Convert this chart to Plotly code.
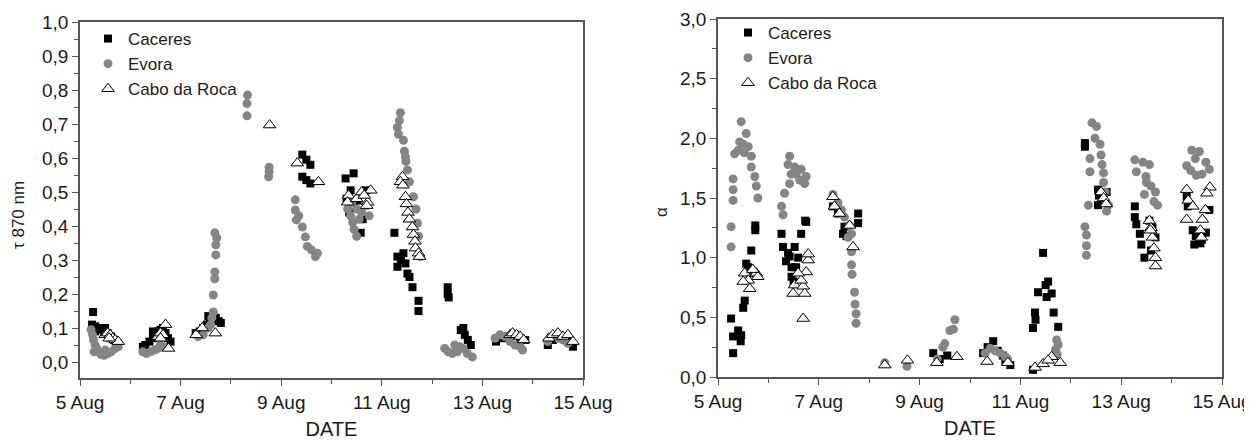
import pandas as pd
import plotly.graph_objects as go
from plotly.subplots import make_subplots

# ---------------- data (day of August, fractional) ----------------
tau_cac_day = [5.26, 5.24, 5.3, 5.35, 5.42, 5.48, 5.55, 5.62, 5.68, 5.75, 5.3, 5.5,
               6.25, 6.3, 6.38, 6.45, 6.5, 6.55, 6.6, 6.65, 6.7, 6.75, 6.45, 6.8,
               7.3, 7.38, 7.45, 7.52, 7.58, 7.64, 7.7, 7.76, 7.8, 7.55,
               9.42, 9.5, 9.58, 9.42, 9.58, 9.5,
               10.28, 10.44, 10.38, 10.68, 10.52, 10.58, 10.35, 10.62, 10.45, 10.3,
               11.25, 11.31, 11.43, 11.31, 11.38, 11.51, 11.55, 11.61, 11.73, 11.73, 11.47,
               12.31, 12.31, 12.33,
               12.57, 12.62, 12.71, 12.77, 12.65,
               13.27, 13.4, 13.55, 13.65, 13.75, 13.85,
               14.3, 14.4, 14.5, 14.6, 14.7, 14.8]
tau_cac_val = [0.147, 0.11, 0.105, 0.10, 0.095, 0.09, 0.085, 0.075, 0.065, 0.055, 0.09, 0.1,
               0.045, 0.05, 0.06, 0.07, 0.08, 0.09, 0.095, 0.1, 0.085, 0.07, 0.09, 0.06,
               0.085, 0.09, 0.1, 0.11, 0.12, 0.125, 0.13, 0.12, 0.115, 0.135,
               0.61, 0.595, 0.58, 0.545, 0.525, 0.535,
               0.54, 0.555, 0.505, 0.505, 0.475, 0.38, 0.44, 0.42, 0.47, 0.48,
               0.38, 0.31, 0.32, 0.28, 0.30, 0.26, 0.25, 0.22, 0.18, 0.15, 0.29,
               0.20, 0.22, 0.19,
               0.094, 0.1, 0.065, 0.05, 0.08,
               0.06, 0.07, 0.075, 0.08, 0.07, 0.065,
               0.05, 0.065, 0.075, 0.07, 0.06, 0.045]

tau_evo_day = [5.22, 5.25, 5.27, 5.3, 5.33, 5.37, 5.42, 5.48, 5.55, 5.62, 5.7, 5.76, 5.28, 5.5,
               6.25, 6.32, 6.4, 6.48, 6.55, 6.6, 6.65,
               7.35, 7.45, 7.55, 7.62, 7.65, 7.65, 7.68, 7.68, 7.7, 7.7, 7.72, 7.68, 7.6,
               8.33, 8.32, 8.32,
               8.76, 8.76, 8.75,
               9.28, 9.28, 9.3, 9.42, 9.48, 9.52, 9.68, 9.72, 9.35, 9.6,
               10.32, 10.38, 10.42, 10.45, 10.5, 10.55, 10.6, 10.7, 10.75, 10.4, 10.5,
               11.37, 11.31, 11.33, 11.43, 11.47, 11.48, 11.51, 11.55, 11.63, 11.68, 11.71, 11.73, 11.77, 11.35, 11.45,
               12.25, 12.32, 12.4, 12.5, 12.55, 12.62, 12.7, 12.8, 12.45,
               13.25, 13.35, 13.45, 13.55, 13.65, 13.75, 13.8,
               14.3, 14.4, 14.5, 14.6, 14.7]
tau_evo_val = [0.095, 0.08, 0.065, 0.05, 0.04, 0.03, 0.022, 0.02, 0.025, 0.03, 0.04, 0.045, 0.03, 0.035,
               0.03, 0.025, 0.03, 0.035, 0.04, 0.05, 0.045,
               0.075, 0.08, 0.1, 0.13, 0.147, 0.197, 0.245, 0.265, 0.315, 0.345, 0.365, 0.38, 0.11,
               0.785, 0.76, 0.724,
               0.573, 0.56, 0.545,
               0.477, 0.447, 0.418, 0.397, 0.368, 0.34, 0.31, 0.32, 0.43, 0.33,
               0.45, 0.43, 0.41, 0.39, 0.37, 0.42, 0.44, 0.46, 0.43, 0.47, 0.45,
               0.733, 0.69, 0.67, 0.652, 0.603, 0.59, 0.565, 0.53, 0.486, 0.45, 0.408, 0.37, 0.31, 0.71, 0.62,
               0.04, 0.03, 0.025, 0.03, 0.045, 0.04, 0.025, 0.015, 0.05,
               0.07, 0.08, 0.075, 0.06, 0.05, 0.045, 0.035,
               0.06, 0.075, 0.07, 0.065, 0.055]

tau_cab_day = [5.5, 5.55, 5.6, 5.65, 5.7, 5.76, 5.58,
               6.55, 6.6, 6.65, 6.7, 6.76, 6.6,
               7.31, 7.43, 7.69,
               8.77,
               9.32, 9.74,
               10.34, 10.32, 10.5, 10.6, 10.78, 10.72, 10.7, 10.65,
               11.41, 11.37, 11.42, 11.47, 11.49, 11.52, 11.55, 11.61, 11.63, 11.66, 11.67, 11.73, 11.75,
               13.55, 13.6, 13.68, 13.75, 13.82,
               14.32, 14.4, 14.5, 14.6, 14.7, 14.8]
tau_cab_val = [0.08, 0.085, 0.08, 0.07, 0.065, 0.06, 0.07,
               0.075, 0.085, 0.08, 0.11, 0.04, 0.07,
               0.08, 0.10, 0.085,
               0.697,
               0.585, 0.53,
               0.49, 0.47, 0.48, 0.5, 0.505, 0.47, 0.46, 0.49,
               0.545, 0.53, 0.52, 0.486, 0.465, 0.44, 0.42, 0.397, 0.375, 0.355, 0.335, 0.32, 0.31,
               0.08, 0.085, 0.08, 0.075, 0.065,
               0.07, 0.08, 0.085, 0.075, 0.08, 0.06]

alp_cac_day = [5.26, 5.4, 5.3, 5.46, 5.3, 5.5, 5.53, 5.56, 5.6, 5.63, 5.66, 5.74, 5.74, 5.45,
               6.26, 6.29, 6.42, 6.46, 6.52, 6.65, 6.73, 6.75, 6.59, 6.46, 6.39, 6.55, 6.35, 6.5,
               7.28, 7.38, 7.48, 7.51, 7.55, 7.78, 7.78,
               9.27, 9.4, 9.55,
               10.26, 10.35, 10.46, 10.55, 10.65, 10.8, 10.7,
               11.25, 11.45, 11.55, 11.5, 11.35, 11.62, 11.29, 11.66, 11.25, 11.75, 11.52, 11.3,
               12.28, 12.28, 12.54, 12.56, 12.54, 12.65, 12.71,
               13.27, 13.27, 13.3, 13.37, 13.4, 13.46, 13.59, 13.68, 13.56, 13.62,
               14.3, 14.32, 14.42, 14.48, 14.57, 14.45, 14.68, 14.75, 14.6]
alp_cac_val = [0.49, 0.39, 0.34, 0.35, 0.20, 0.58, 0.64, 0.95, 0.92, 0.87, 1.06, 1.23, 1.27, 0.30,
               1.20, 1.09, 1.01, 0.92, 1.09, 1.2, 1.31, 1.30, 1.0, 0.84, 1.04, 0.92, 0.97, 0.8,
               1.43, 1.37, 1.2, 1.26, 1.18, 1.37, 1.29,
               0.2, 0.15, 0.18,
               0.2, 0.25, 0.30, 0.22, 0.18, 0.10, 0.14,
               0.06, 1.04, 0.80, 0.77, 0.71, 0.70, 0.54, 0.54, 0.41, 0.42, 0.67, 0.48,
               1.96, 1.93, 1.57, 1.52, 1.44, 1.50, 1.55,
               1.43, 1.34, 1.28, 1.20, 1.11, 1.0, 1.06, 1.17, 1.31, 1.25,
               1.51, 1.43, 1.23, 1.18, 1.12, 1.11, 1.21, 1.40, 1.15]

alp_evo_day = [5.46, 5.56, 5.43, 5.33, 5.6, 5.66, 5.66, 5.73, 5.76, 5.79, 5.3, 5.3, 5.3, 5.26, 5.26, 5.4, 5.5, 5.52,
               6.42, 6.39, 6.52, 6.65, 6.75, 6.42, 6.32, 6.26, 6.29, 6.62, 6.72, 6.55, 6.45,
               7.28, 7.38, 7.51, 7.61, 7.65, 7.65, 7.65, 7.66, 7.71, 7.72, 7.74, 7.74, 7.58, 7.45,
               8.31, 8.75,
               9.46, 9.5, 9.6, 9.67, 9.7, 9.35,
               10.3, 10.4, 10.5, 10.6, 10.7, 10.75,
               11.72, 11.75, 11.73, 11.7,
               12.42, 12.51, 12.48, 12.58, 12.6, 12.38, 12.38, 12.62, 12.65, 12.65, 12.68, 12.75, 12.71, 12.35, 12.28, 12.31, 12.31, 12.31,
               13.27, 13.43, 13.56, 13.3, 13.49, 13.59, 13.46, 13.68, 13.72, 13.65, 13.5,
               14.4, 14.55, 14.3, 14.68, 14.75, 14.49, 14.38, 14.6, 14.47]
alp_evo_val = [2.14, 2.04, 1.97, 1.87, 1.93, 1.85, 1.76, 1.68, 1.60, 1.50, 1.66, 1.57, 1.48, 1.26, 1.09, 1.9, 1.95, 1.88,
               1.85, 1.78, 1.76, 1.74, 1.68, 1.62, 1.54, 1.43, 1.36, 1.65, 1.62, 1.7, 1.7,
               1.53, 1.46, 1.34, 1.27, 1.2, 1.05, 0.94, 0.86, 0.71, 0.61, 0.53, 0.45, 1.17, 1.4,
               0.12, 0.09,
               0.25, 0.28, 0.39, 0.40, 0.48, 0.15,
               0.2, 0.24, 0.22, 0.2, 0.17, 0.15,
               0.31, 0.27, 0.19, 0.23,
               2.13, 2.10, 2.0, 1.95, 1.86, 1.83, 1.72, 1.78, 1.71, 1.63, 1.55, 1.44, 1.39, 1.44, 1.26, 1.19, 1.10, 1.02,
               1.82, 1.80, 1.78, 1.72, 1.68, 1.60, 1.53, 1.55, 1.44, 1.47, 1.63,
               1.9, 1.89, 1.77, 1.80, 1.74, 1.69, 1.73, 1.7, 1.83]

alp_cab_day = [5.53, 5.6, 5.76, 5.5, 5.63, 5.79, 5.69,
               6.52, 6.49, 6.69, 6.72, 6.65, 6.75, 6.79, 6.79, 6.69, 6.59,
               7.28, 7.31, 7.41, 7.61, 7.68,
               8.31, 8.76,
               9.34, 9.74,
               10.34, 10.75,
               11.29, 11.45, 11.62, 11.79, 11.55,
               12.6, 12.65, 12.7,
               13.56, 13.59, 13.62, 13.65, 13.68, 13.68, 13.58,
               14.3, 14.33, 14.42, 14.3, 14.76, 14.7, 14.67, 14.61, 14.57, 14.59]
alp_cab_val = [0.87, 0.81, 0.87, 0.80, 0.74, 0.84, 0.90,
               0.77, 0.70, 0.76, 0.70, 0.81, 0.88, 0.98, 1.03, 0.49, 0.87,
               1.51, 1.43, 1.37, 1.27, 1.09,
               0.10, 0.14,
               0.12, 0.17,
               0.13, 0.12,
               0.08, 0.11, 0.17, 0.12, 0.14,
               1.55, 1.5, 1.45,
               1.31, 1.25, 1.17, 1.08, 1.0, 0.93, 1.23,
               1.57, 1.48, 1.43, 1.32, 1.59, 1.54, 1.40, 1.32, 1.23, 1.17]

station_names = ["Caceres", "Evora", "Cabo da Roca"]
x_tick_labels = ["5 Aug", "7 Aug", "9 Aug", "11 Aug", "13 Aug", "15 Aug"]
y_titles = ["τ 870 nm", "α"]
x_title = "DATE"


def to_time(days):
    base = pd.Timestamp("2004-07-31")
    return [base + pd.Timedelta(days=d) for d in days]


FONT = "Liberation Sans, Arial, sans-serif"
AX = "#555555"
TXT = "#1a1a1a"
# page has an 8px body margin; figure sized so it ends at the window edge
OFF = 8
W, H = 1252 - OFF, 440 - OFF


def px(x):
    return (x - OFF) / W


def py(y):
    return 1 - (y - OFF) / H


fig = make_subplots(rows=1, cols=2)

markers = [
    dict(symbol="square", color="black", size=8, line=dict(width=0)),
    dict(symbol="circle", color="#858585", size=9, line=dict(width=0)),
    dict(symbol="triangle-up", color="white", size=11, line=dict(width=1, color="black")),
]

left = [(tau_cac_day, tau_cac_val), (tau_evo_day, tau_evo_val), (tau_cab_day, tau_cab_val)]
right = [(alp_cac_day, alp_cac_val), (alp_evo_day, alp_evo_val), (alp_cab_day, alp_cab_val)]

for i, (d, v) in enumerate(left):
    fig.add_trace(go.Scatter(x=to_time(d), y=v, mode="markers", name=station_names[i],
                             marker=markers[i], legend="legend"), row=1, col=1)
for i, (d, v) in enumerate(right):
    fig.add_trace(go.Scatter(x=to_time(d), y=v, mode="markers", name=station_names[i],
                             marker=markers[i], legend="legend2"), row=1, col=2)

tickvals = to_time([5, 7, 9, 11, 13, 15])
xcommon = dict(
    type="date", range=[pd.Timestamp("2004-08-05"), pd.Timestamp("2004-08-15")],
    tickvals=tickvals, ticktext=x_tick_labels, automargin=False,
    ticks="outside", ticklen=6, tickwidth=1, tickcolor=AX,
    minor=dict(dtick=86400000, tick0="2004-08-05", ticks="outside", ticklen=4, tickcolor=AX),
    showline=True, linecolor=AX, linewidth=1.5, mirror=True,
    showgrid=False, zeroline=False,
    tickfont=dict(family=FONT, size=19, color=TXT),
    title=dict(text=x_title, font=dict(family=FONT, size=20, color=TXT), standoff=10),
)
fig.update_xaxes(**xcommon)
fig.update_xaxes(domain=[px(80), px(583)], row=1, col=1)
fig.update_xaxes(domain=[px(718), px(1222)], row=1, col=2)

ycommon = dict(
    ticks="outside", ticklen=6, tickwidth=1, tickcolor=AX, automargin=False,
    showline=True, linecolor=AX, linewidth=1.5, mirror=True,
    showgrid=False, zeroline=False, tickformat=".1f",
    tickfont=dict(family=FONT, size=19, color=TXT),
)
fig.update_yaxes(**ycommon)
fig.update_yaxes(range=[-0.047, 1.0], dtick=0.1, tick0=0,
                 minor=dict(dtick=0.05, ticks="outside", ticklen=4, tickcolor=AX),
                 domain=[py(378), py(22)], row=1, col=1)
fig.update_yaxes(range=[0, 3.0], dtick=0.5, tick0=0,
                 minor=dict(dtick=0.25, ticks="outside", ticklen=4, tickcolor=AX),
                 domain=[py(377), py(19)], row=1, col=2)

# y axis titles placed where the reference has them
fig.add_annotation(text=y_titles[0], xref="paper", yref="paper", x=px(18), y=py(215),
                   showarrow=False, textangle=-90, xanchor="center", yanchor="middle",
                   font=dict(family=FONT, size=17, color=TXT))
fig.add_annotation(text=y_titles[1], xref="paper", yref="paper", x=px(661), y=py(212),
                   showarrow=False, textangle=-90, xanchor="center", yanchor="middle",
                   font=dict(family=FONT, size=17, color=TXT))

legfont = dict(family=FONT, size=17, color=TXT)
fig.update_layout(
    width=W, height=H,
    margin=dict(l=0, r=0, t=0, b=0),
    paper_bgcolor="white", plot_bgcolor="white",
    separators=", ",
    showlegend=True,
    legend=dict(x=px(88), y=py(21), xanchor="left", yanchor="top",
                bgcolor="rgba(0,0,0,0)", font=legfont, tracegroupgap=0),
    legend2=dict(x=px(728), y=py(15), xanchor="left", yanchor="top",
                 bgcolor="rgba(0,0,0,0)", font=legfont, tracegroupgap=0),
)

fig.write_html("out.html")
